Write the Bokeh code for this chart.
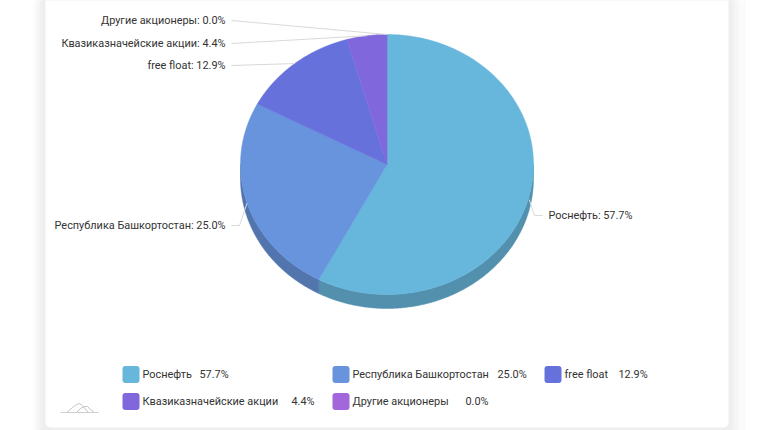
import numpy as np
from bokeh.plotting import figure
from bokeh.embed import file_html
from bokeh.resources import INLINE
from bokeh.core.properties import value
from bokeh.models import Range1d

names = ["Роснефть", "Республика Башкортостан", "free float", "Квазиказначейские акции", "Другие акционеры"]
shares = [57.7, 25.0, 12.9, 4.4, 0.0]
tops = ["#67b7dc", "#6794dc", "#6771dc", "#8067dc", "#a367dc"]
sides = ["#5290ae", "#5275ae", "#5259ae", "#6552ae", "#8152ae"]

W, H = 758, 430
FONT = value("Roboto")
FS = "10.9px"
p = figure(width=W, height=H, output_backend="svg", toolbar_location=None,
           x_range=Range1d(0, W), y_range=Range1d(H, 0),
           min_border=0, outline_line_color=None)
p.axis.visible = False
p.grid.visible = False
p.background_fill_color = "white"
p.border_fill_color = "white"

# card shadow / card
for l, r, c in [(33, 745, "#fbfbfb"), (36, 738, "#f6f6f6"), (39, 734, "#f1f1f1"), (42, 731, "#eeeeee")]:
    p.quad(left=[l], right=[r], top=[-10], bottom=[440], fill_color=c, line_color=None)
p.quad(left=[45], right=[728], top=[-10], bottom=[427], fill_color="white", line_color=None, border_radius=5)

cx, cy, rx, ry, depth = 386.5, 164, 146.5, 130, 14
vals = np.array(shares)
frac = vals / vals.sum()
edges = np.concatenate([[0], np.cumsum(frac)]) * 2 * np.pi

def ell(t, dy=0):
    return cx + rx * np.sin(t), cy - ry * np.cos(t) + dy

# side walls (only front half is visible)
for i in range(len(vals)):
    a, b = max(edges[i], np.pi / 2), min(edges[i + 1], 3 * np.pi / 2)
    if b > a:
        t = np.linspace(a, b, 200)
        x1, y1 = ell(t)
        x2, y2 = ell(t[::-1], depth)
        p.patch(np.r_[x1, x2], np.r_[y1, y2], fill_color=sides[i], line_color=sides[i], line_width=0.5)

# top faces
for i in range(len(vals)):
    a, b = edges[i], edges[i + 1]
    if b - a > 1e-6:
        t = np.linspace(a, b, 240)
        x, y = ell(t)
        p.patch(np.r_[cx, x], np.r_[cy, y], fill_color=tops[i], line_color=tops[i], line_width=0.5)

# labels with leader lines
label_xy = [(548, 215, "left"), (225, 225, "right"), (225, 65, "right"), (225, 43, "right"), (225, 20, "right")]
for i in range(len(vals)):
    mid = (edges[i] + edges[i + 1]) / 2
    mx, my = ell(np.array(mid))
    lx, ly, al = label_xy[i]
    gap = -6 if al == "left" else 6
    if al == "left":
        xs, ys = [mx, lx - 14, lx + gap], [my + 4, ly, ly]
    elif i == 1:
        xs, ys = [mx, lx + 14, lx + gap], [my, ly, ly]
    else:
        xs, ys = [mx, lx + gap], [my, ly]
    p.line(xs, ys, line_color="#d9d9d9", line_width=1)
    p.text([lx], [ly], text=[f"{names[i]}: {shares[i]:.1f}%"], text_font=FONT, text_font_size=FS,
           text_color="#333333", text_align=al, text_baseline="middle")

# legend
leg_pos = [(122, 374), (332, 374), (544, 374), (122, 401), (332, 401)]
val_x = [199, 497, 618, 291, 465]
for i in range(len(vals)):
    lx, ly = leg_pos[i]
    p.quad(left=[lx], right=[lx + 17], top=[ly - 8.5], bottom=[ly + 8.5], fill_color=tops[i], line_color=None,
           border_radius=3)
    p.text([lx + 20], [ly], text=[names[i]], text_font=FONT, text_font_size=FS, text_color="#333333",
           text_baseline="middle")
    p.text([val_x[i]], [ly], text=[f"{shares[i]:.1f}%"], text_font=FONT, text_font_size=FS,
           text_color="#333333", text_baseline="middle")

# small logo
p.line([66, 72, 76, 79, 82, 86, 88], [412, 407, 404, 403, 405, 410, 412], line_color="#c4c4c4", line_width=1)
p.line([76, 80, 84, 87, 90, 94], [412, 408, 406, 406, 409, 412], line_color="#c4c4c4", line_width=1)
p.line([60, 98], [412, 412], line_color="#d0d0d0", line_width=1)

open("out.html", "w").write(file_html(p, INLINE))
